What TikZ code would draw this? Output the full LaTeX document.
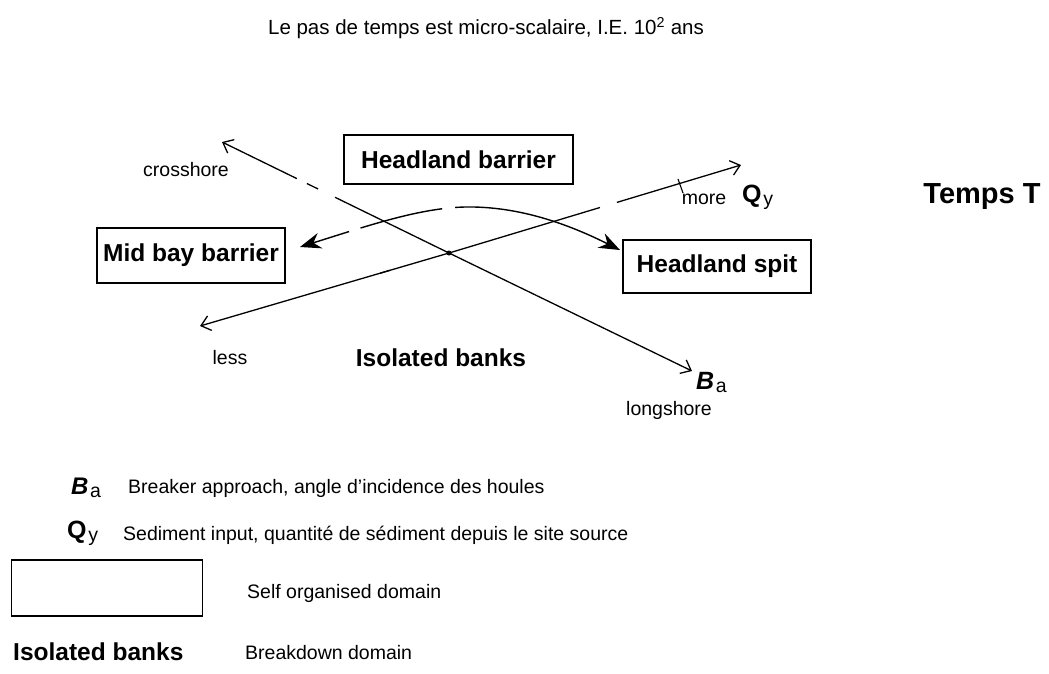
\documentclass[tikz,border=0pt]{standalone}
\usepackage{fontspec}
\setmainfont{Liberation Sans}
\usetikzlibrary{arrows.meta,calc}
\tikzset{
  lbl/.style={inner sep=0pt, font=\fontsize{19.5}{22}\selectfont},
  bld/.style={inner sep=0pt, font=\fontsize{24.5}{28}\selectfont\bfseries},
  dombox/.style={draw, line width=1.4pt, inner sep=0pt},
  axis/.style={line width=1.3pt},
  barb/.style={-{Straight Barb[length=9pt,width=15pt]}},
  heavyarrow/.style={line width=1.4pt, {Stealth[length=21pt,width=16pt,inset=7pt]}-{Stealth[length=21pt,width=16pt,inset=7pt]}},
}
\begin{document}
\begin{tikzpicture}[x=1pt,y=-1pt]
\useasboundingbox (0,0) rectangle (1049,673);
\fill[white] (0,0) rectangle (1049,673);

% title
\node[inner sep=0pt, font=\fontsize{20.5}{24}\selectfont] (title) at (486,28) {Le pas de temps est micro-scalaire, I.E. 10\textsuperscript{2} ans};

% domain boxes
\node[dombox, minimum width=229pt, minimum height=49pt] (hb) at (458.5,159.5) {};
\node[bld] (hbt) at (hb.center) {Headland barrier};
\node[dombox, minimum width=188pt, minimum height=55pt] (mb) at (191,255.5) {};
\node[bld] (mbt) at (mb.center) {Mid bay barrier};
\node[dombox, minimum width=188pt, minimum height=53pt] (hs) at (717,266.5) {};
\node[bld] (hst) at (hs.center) {Headland spit};

\node[inner sep=0pt, font=\fontsize{29}{32}\selectfont\bfseries] (temps) at (982,197) {Temps T};

% axes
\coordinate (cs1) at (222,142);
\coordinate (cs2) at (692,371);
\coordinate (q1) at (200,326);
\coordinate (q2) at (741,165);
\node[circle, fill, inner sep=0pt, minimum size=5pt] (c) at (449,253) {};
% crosshore / longshore axis
\draw[axis, barb] ($(c.center)!0.67!(cs1)$) -- (cs1);
\draw[axis] ($(c.center)!0.577!(cs1)$) -- ($(c.center)!0.626!(cs1)$);
\draw[axis] (c.center) -- ($(c.center)!0.502!(cs1)$);
\draw[axis, barb] (c.center) -- (cs2);
% sediment axis
\draw[axis, barb] ($(c.center)!0.237!(q1)$) -- (q1);
\draw[axis] (c.center) -- ($(c.center)!0.277!(q1)$);
\draw[axis] (c.center) -- ($(c.center)!0.517!(q2)$);
\draw[axis, barb] ($(c.center)!0.575!(q2)$) -- (q2);
\coordinate (tk1) at (678,179);
\coordinate (tk2) at (683,193);
\draw[line width=1.1pt] (tk1) -- (tk2);

% curve between domains
\coordinate (cl) at (300,247);
\coordinate (cr) at (620,250);
\coordinate (pk) at (465,207);
\draw[heavyarrow, dash pattern=on 38pt off 12pt on 84pt off 13pt on 400pt] (cl) .. controls (370,225) and (420,208) .. (pk) .. controls (520,206) and (570,225) .. (cr);

% labels
\node[lbl] (crossl) at (186,170) {crosshore};
\node[lbl] (morel) at (704,199) {more};
\node[inner sep=0pt, anchor=west] (qyl) at (742,197) {{\fontsize{25}{28}\selectfont\bfseries Q}\,{\fontsize{19.5}{22}\selectfont\raisebox{-3pt}{y}}};
\node[lbl] (lessl) at (230,358) {less};
\node[bld] (iso) at (441,358) {Isolated banks};
\node[inner sep=0pt, anchor=west] (bal) at (696,382) {{\fontsize{25}{28}\selectfont\bfseries\itshape B}\,{\fontsize{19.5}{22}\selectfont\raisebox{-3pt}{a}}};
\node[lbl] (longl) at (669,410) {longshore};

% legend
\node[inner sep=0pt, anchor=west] (lba) at (71,488) {{\fontsize{24}{28}\selectfont\bfseries\itshape B}\,{\fontsize{19.5}{22}\selectfont\raisebox{-3pt}{a}}};
\node[lbl, anchor=west] (lbat) at (128,488) {Breaker approach, angle d'incidence des houles};
\node[inner sep=0pt, anchor=west] (lqy) at (67,533) {{\fontsize{25}{28}\selectfont\bfseries Q}\,{\fontsize{19.5}{22}\selectfont\raisebox{-3pt}{y}}};
\node[lbl, anchor=west] (lqyt) at (123,535) {Sediment input, quantité de sédiment depuis le site source};
\node[dombox, minimum width=191pt, minimum height=56pt] (lbox) at (107,588) {};
\node[lbl, anchor=west] (lboxt) at (247,593) {Self organised domain};
\node[bld, anchor=west] (liso) at (13,652) {Isolated banks};
\node[lbl, anchor=west] (lisot) at (245,653) {Breakdown domain};
\end{tikzpicture}
\end{document}
